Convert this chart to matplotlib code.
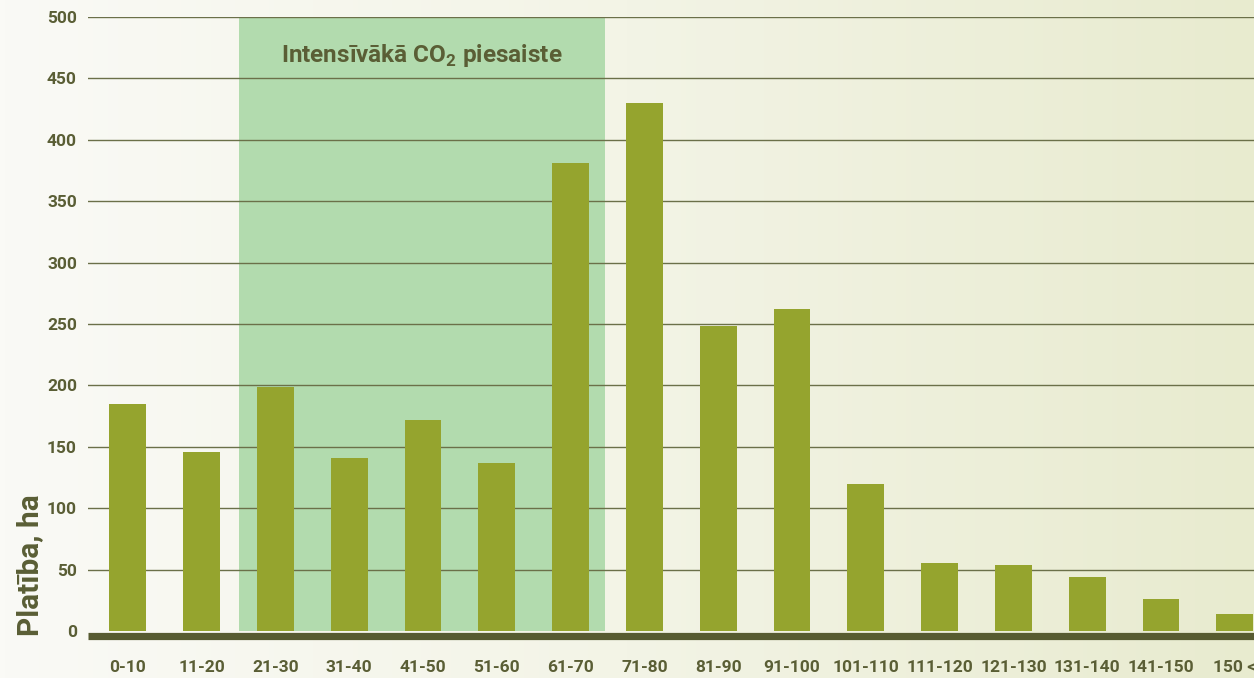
import numpy as np
import matplotlib
matplotlib.use('Agg')
from matplotlib import pyplot as plt
from matplotlib.colors import LinearSegmentedColormap

age_groups = ['0-10', '11-20', '21-30', '31-40', '41-50', '51-60', '61-70', '71-80',
              '81-90', '91-100', '101-110', '111-120', '121-130', '131-140', '141-150', '150 <']
area_ha = [185, 146, 199, 141, 172, 137, 381, 430, 248, 262, 120, 55, 54, 44, 26, 14]
y_ticks = [0, 50, 100, 150, 200, 250, 300, 350, 400, 450, 500]
highlight_from, highlight_to = '21-30', '61-70'
highlight_label = 'Intensīvākā CO$_\\mathbf{2}$ piesaiste'
y_label = 'Platība, ha'

text_color = '#5a5e35'
bar_color = '#95a42e'

plt.rcParams['font.family'] = ['Roboto', 'DejaVu Sans']
plt.rcParams['mathtext.fontset'] = 'custom'
plt.rcParams['mathtext.bf'] = 'Roboto:bold'
plt.rcParams['mathtext.rm'] = 'Roboto'

fig = plt.figure(figsize=(12.54, 6.78), dpi=100)

# background gradient
bg = fig.add_axes([0, 0, 1, 1], zorder=-10)
cmap = LinearSegmentedColormap.from_list('bg', ['#fafaf6', '#f3f4e6', '#e8ebcf'])
bg.imshow(np.linspace(0, 1, 256)[None, :], aspect='auto', cmap=cmap, extent=[0, 1, 0, 1])
bg.axis('off')

ax = fig.add_axes([88 / 1254, 47 / 678, 1 - 88 / 1254, 614 / 678])
ax.patch.set_alpha(0)
x = np.arange(len(age_groups))

i0 = age_groups.index(highlight_from)
i1 = age_groups.index(highlight_to)
ax.axvspan(i0 - 0.5, i1 + 0.46, color='#b2dbae', zorder=0, lw=0)
ax.text((i0 + i1) / 2 - 0.02, 469, highlight_label, ha='center', va='center',
        fontsize=17.5, fontweight='bold', color=text_color)

for yt in y_ticks[1:]:
    ax.axhline(yt, color='#6b7049', lw=1.0, zorder=1)

ax.bar(x, area_ha, width=0.5, color=bar_color, zorder=2)
ax.axhline(-3.7, color='#575b31', lw=5.2, zorder=3, clip_on=False, solid_capstyle='butt')

ax.set_xlim(-0.54, 15.26)
ax.set_ylim(0, 500)
ax.set_yticks(y_ticks)
ax.set_xticks(x)
ax.set_xticklabels(age_groups)
ax.tick_params(axis='both', length=0, colors=text_color, labelsize=12.5)
ax.tick_params(axis='y', pad=8)
ax.tick_params(axis='x', pad=21)
for lbl in ax.get_xticklabels() + ax.get_yticklabels():
    lbl.set_fontweight('bold')
for s in ax.spines.values():
    s.set_visible(False)

fig.text(30 / 1254, 1 - 636 / 678, y_label, rotation=90, ha='center', va='bottom',
         fontsize=21.5, fontweight='bold', color=text_color)

fig.savefig('out.png', dpi=100)
